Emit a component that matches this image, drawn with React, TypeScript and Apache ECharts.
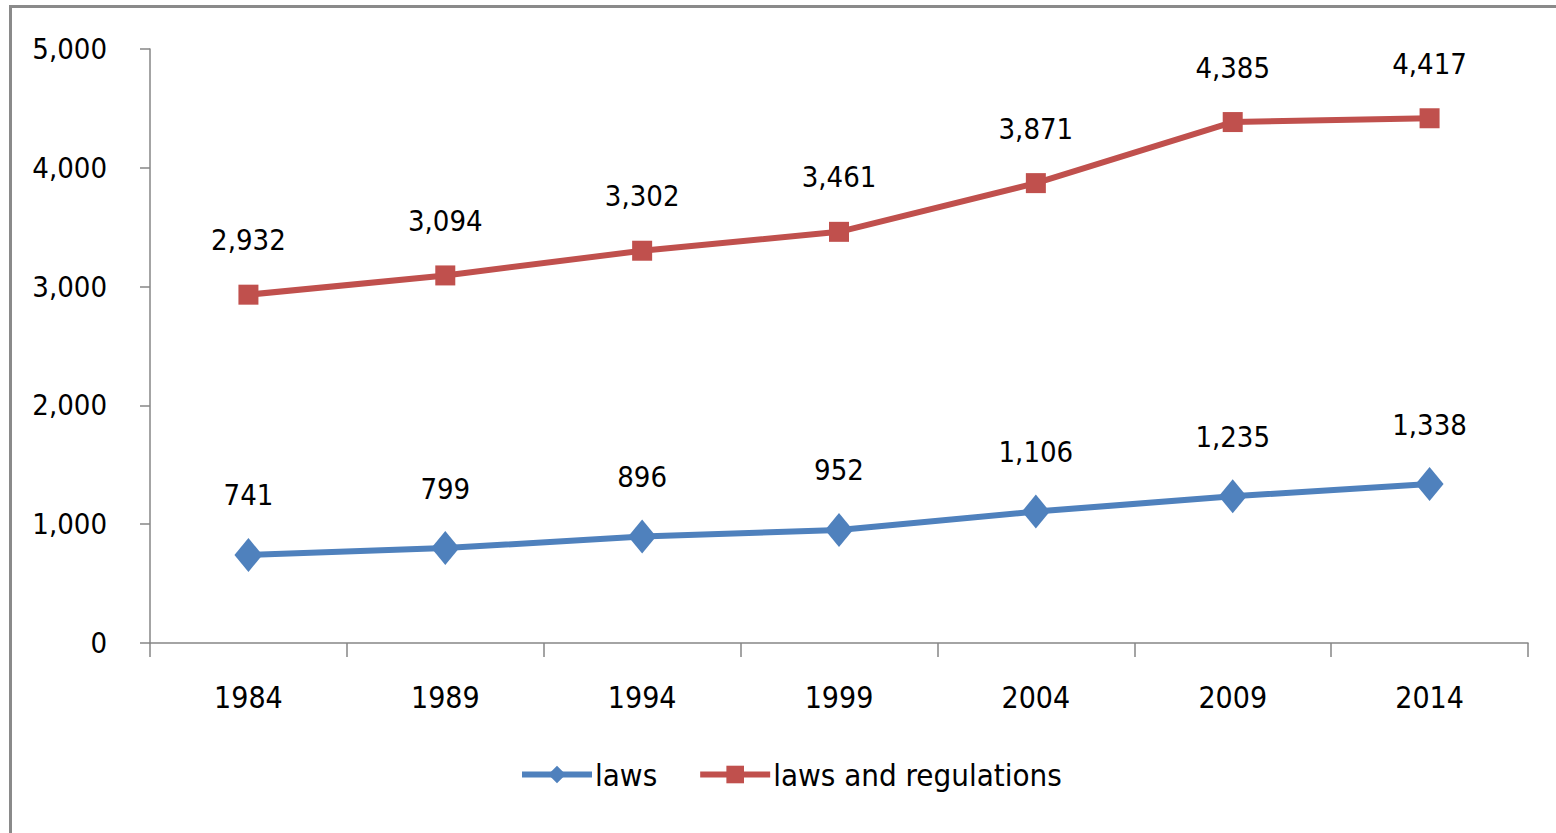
import React, { useEffect, useRef } from "react";
import * as echarts from "echarts";

const years = ["1984", "1989", "1994", "1999", "2004", "2009", "2014"];
const laws = [741, 799, 896, 952, 1106, 1235, 1338];
const lawsAndRegs = [2932, 3094, 3302, 3461, 3871, 4385, 4417];
const seriesNames = ["laws", "laws and regulations"];

const FONT = "'Liberation Sans Narrow', 'DejaVu Sans Condensed', 'Noto Sans CJK KR', sans-serif";

export default function App() {
  const ref = useRef<HTMLDivElement>(null);
  useEffect(() => {
    document.body.style.margin = "0";
    const chart = echarts.init(ref.current!, null, { renderer: "svg" });
    const fmt = (v: number) => v.toLocaleString("en-US");
    chart.setOption({
      animation: false,
      backgroundColor: "#ffffff",
      textStyle: { fontFamily: FONT },
      graphic: [
        { type: "line", shape: { x1: 9, y1: 6.5, x2: 1556, y2: 6.5 }, style: { stroke: "#8a8a8a", lineWidth: 3 } },
        { type: "line", shape: { x1: 10.5, y1: 5, x2: 10.5, y2: 833 }, style: { stroke: "#8a8a8a", lineWidth: 3 } },
      ],
      grid: { left: 150, right: 28, top: 49, bottom: 190, containLabel: false },
      legend: {
        bottom: 38,
        left: 514,
        itemWidth: 70,
        itemHeight: 22,
        itemGap: 40,
        lineStyle: { width: 6 },
        textStyle: { fontFamily: FONT, fontSize: 31, color: "#000", padding: [0, 0, 0, -2] },
        data: seriesNames,
      },
      xAxis: {
        type: "category",
        data: years,
        boundaryGap: true,
        axisLine: { lineStyle: { color: "#868686", width: 1.5 } },
        axisTick: { show: true, length: 14, alignWithLabel: false, lineStyle: { color: "#868686", width: 1.5 } },
        axisLabel: { margin: 39, fontSize: 30, color: "#000", fontFamily: FONT },
        splitLine: { show: false },
      },
      yAxis: {
        type: "value",
        min: 0,
        max: 5000,
        interval: 1000,
        axisLine: { show: true, lineStyle: { color: "#868686", width: 1.5 } },
        axisTick: { show: true, length: 10, lineStyle: { color: "#868686", width: 1.5 } },
        axisLabel: { margin: 43, fontSize: 29, color: "#000", fontFamily: FONT, formatter: (v: number) => fmt(v) },
        splitLine: { show: false },
      },
      series: [
        {
          name: seriesNames[0],
          type: "line",
          data: laws,
          symbol: "diamond",
          symbolSize: [28, 34],
          color: "#4F81BD",
          lineStyle: { width: 6, color: "#4F81BD" },
          itemStyle: { color: "#4F81BD" },
          label: {
            show: true,
            position: "top",
            distance: 28,
            fontSize: 29,
            color: "#000",
            fontFamily: FONT,
            formatter: (p: any) => fmt(p.value),
          },
        },
        {
          name: seriesNames[1],
          type: "line",
          data: lawsAndRegs,
          symbol: "rect",
          symbolSize: 20,
          color: "#C0504D",
          lineStyle: { width: 6, color: "#C0504D" },
          itemStyle: { color: "#C0504D" },
          label: {
            show: true,
            position: "top",
            distance: 30,
            fontSize: 29,
            color: "#000",
            fontFamily: FONT,
            formatter: (p: any) => fmt(p.value),
          },
        },
      ],
    });
    return () => chart.dispose();
  }, []);
  return <div ref={ref} style={{ position: "fixed", left: 0, top: 0, width: 1556, height: 833 }} />;
}
